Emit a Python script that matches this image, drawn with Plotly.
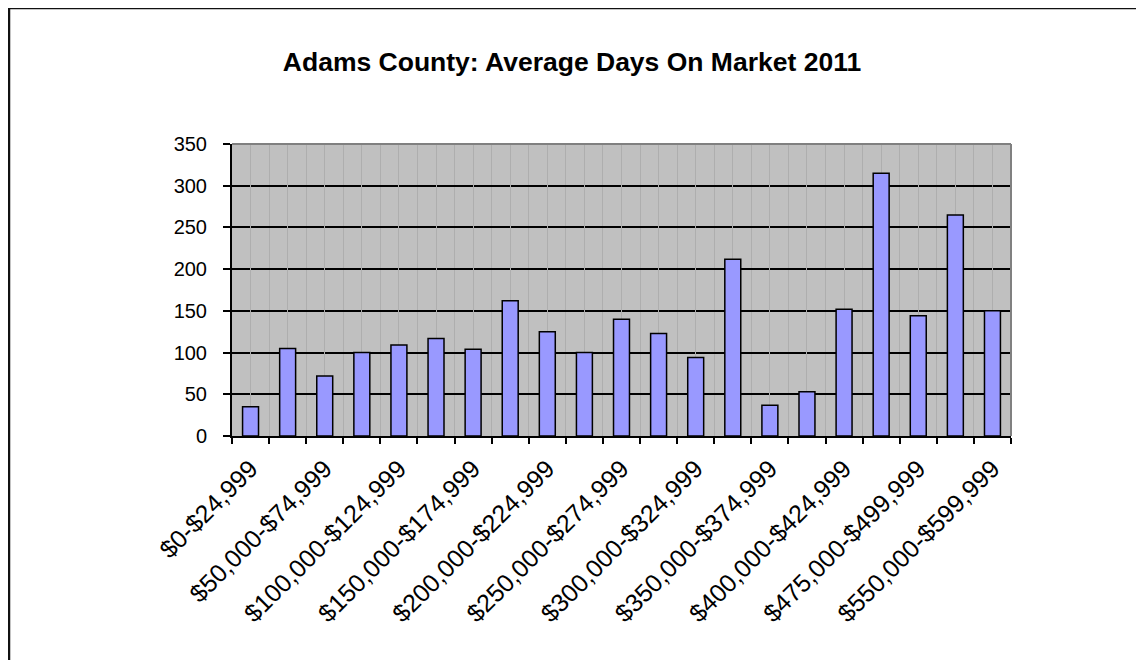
import plotly.graph_objects as go

categories = [
    "$0-$24,999", "$25,000-$49,999", "$50,000-$74,999", "$75,000-$99,999",
    "$100,000-$124,999", "$125,000-$149,999", "$150,000-$174,999", "$175,000-$199,999",
    "$200,000-$224,999", "$225,000-$249,999", "$250,000-$274,999", "$275,000-$299,999",
    "$300,000-$324,999", "$325,000-$349,999", "$350,000-$374,999", "$375,000-$399,999",
    "$400,000-$424,999", "$425,000-$474,999", "$475,000-$499,999", "$500,000-$549,999",
    "$550,000-$599,999",
]
days = [35, 105, 72, 100, 109, 117, 104, 162, 125, 100, 140, 123, 94, 212, 37, 53, 152, 315, 144, 265, 150]
y_ticks = [0, 50, 100, 150, 200, 250, 300, 350]
tick_text = [c if i % 2 == 0 else "" for i, c in enumerate(categories)]

FONT = "Liberation Sans, Arial, sans-serif"

W, H = 1144, 660
L, T, PW, PH = 224, 136, 779, 292

fig = go.Figure()
fig.add_trace(go.Bar(
    x=categories, y=days,
    marker=dict(color="#9999FF", line=dict(color="#000000", width=1.5)),
    showlegend=False, hoverinfo="x+y",
))
# invisible trace to activate the center-grid overlay axis
fig.add_trace(go.Scatter(
    x=list(range(len(categories))), y=days, xaxis="x2", mode="markers",
    marker=dict(opacity=0), showlegend=False, hoverinfo="skip",
))

fx = lambda px: (px - L) / PW
fy = lambda py: (T + PH - py) / PH

fig.update_layout(
    width=W, height=H,
    paper_bgcolor="white", plot_bgcolor="#C0C0C0",
    margin=dict(l=L, r=W - L - PW, t=T, b=H - T - PH, pad=0),
    bargap=0.57,
    title=dict(
        text="<b>Adams County: Average Days On Market 2011</b>",
        x=564 / W, xref="container", xanchor="center",
        y=1 - 54 / H, yref="container", yanchor="middle",
        font=dict(family=FONT, size=26.5, color="black"),
    ),
    xaxis=dict(
        type="category", categoryorder="array", categoryarray=categories,
        tickvals=categories, ticktext=tick_text, tickangle=-45,
        tickson="boundaries", ticks="outside", ticklen=6, tickwidth=1.5, tickcolor="black",
        ticklabelstandoff=6,
        showgrid=True, gridcolor="#AEAEAE", gridwidth=1,
        showline=True, linecolor="black", linewidth=2,
        tickfont=dict(family=FONT, size=25, color="black"),
        range=[-0.5, len(categories) - 0.5],
    ),
    xaxis2=dict(
        overlaying="x", anchor="y", side="bottom",
        range=[-0.5, len(categories) - 0.5],
        tickvals=list(range(len(categories))), showticklabels=False, ticks="",
        showgrid=True, gridcolor="#AEAEAE", gridwidth=1, showline=False, zeroline=False,
    ),
    yaxis=dict(
        range=[0, 350], tickvals=y_ticks,
        ticks="outside", ticklen=7, tickwidth=1.5, tickcolor="black",
        ticklabelstandoff=12,
        showgrid=True, gridcolor="black", gridwidth=1.5,
        showline=True, linecolor="black", linewidth=2, zeroline=False,
        tickfont=dict(family=FONT, size=20, color="black"),
    ),
    shapes=[
        # plot area top & right border (gray)
        dict(type="line", xref="paper", yref="paper", x0=0, x1=1, y0=1, y1=1,
             line=dict(color="#808080", width=2), layer="above"),
        dict(type="line", xref="paper", yref="paper", x0=1, x1=1, y0=0, y1=1,
             line=dict(color="#808080", width=2), layer="above"),
        # outer chart frame (top and left edges visible)
        dict(type="line", xref="paper", yref="paper",
             x0=fx(1), x1=fx(W + 20), y0=fy(0), y1=fy(0),
             line=dict(color="#111111", width=2.5)),
        dict(type="line", xref="paper", yref="paper",
             x0=fx(1), x1=fx(1), y0=fy(0), y1=fy(H + 20),
             line=dict(color="#111111", width=2.5)),
    ],
)

fig.write_html("out.html")
